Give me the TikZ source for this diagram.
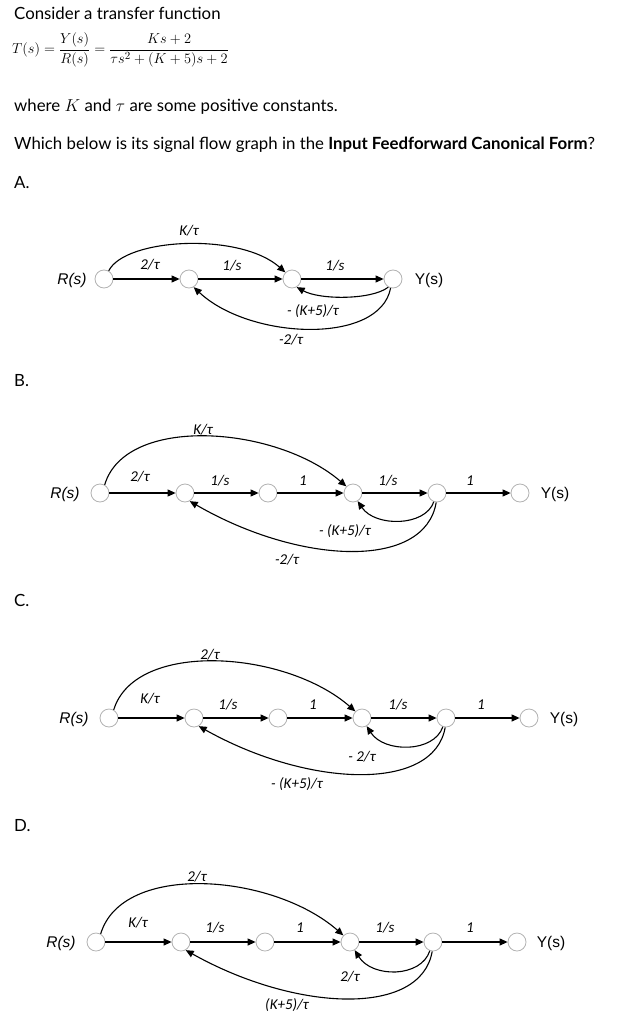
\documentclass[tikz,border=0pt]{standalone}
\usepackage{fontspec}
\setmainfont{Lato}
\newfontfamily\lblf{Carlito}
\newfontfamily\rsf{Liberation Sans}
\usetikzlibrary{arrows.meta}
\begin{document}
\begin{tikzpicture}[x=1pt,y=-1pt,
  nd/.style={circle,draw=black!30,line width=0.8pt,minimum size=18pt,inner sep=0pt},
  ar/.style={line width=1.1pt,-{Triangle[length=8pt,width=7pt]}},
  lb/.style={font=\lblf\itshape\fontsize{15}{17}\selectfont,inner sep=0pt},
  io/.style={font=\rsf\fontsize{15.5}{17}\selectfont,inner sep=0pt},
  tx/.style={font=\fontsize{16.8}{19}\selectfont,anchor=west,inner sep=0pt}]
\useasboundingbox (0,0) rectangle (634,1024);
\node[tx] (t1) at (14,13) {Consider a transfer function};
\node[tx,font=\fontsize{15.5}{18}\selectfont] (t2) at (12,50) {$\displaystyle T(s)=\frac{Y(s)}{R(s)}=\frac{Ks+2}{\tau s^2+(K+5)s+2}$};
\node[tx] (t3) at (14,107) {where $K$ and $\tau$ are some positive constants.};
\node[tx] (t4) at (14,145) {Which below is its signal flow graph in the \textbf{Input Feedforward Canonical Form}?};
\node[tx] (la) at (14,183) {A.};
\node[tx] (lbB) at (14,381) {B.};
\node[tx] (lc) at (14,600) {C.};
\node[tx] (ld) at (14,826) {D.};
% ---------- A
\node[nd] (aR) at (104,279) {};
\node[nd] (a1) at (189,279) {};
\node[nd] (a2) at (292,279) {};
\node[nd] (aY) at (393,279) {};
\node[io] (aRl) at (72,280) {\itshape R(s)};
\node[io] (aYl) at (429,280) {Y(s)};
\draw[ar] (aR) -- (a1);
\draw[ar] (a1) -- (a2);
\draw[ar] (a2) -- (aY);
\draw[ar] (aR.60) .. controls (125,238) and (240,232) .. (a2.135);
\draw[ar] (aY.240) .. controls (372,300) and (320,300) .. (a2.-60);
\draw[ar] (aY.255) .. controls (380,345) and (250,340) .. (a1.-60);
\node[lb] at (189,231) {K/τ};
\node[lb] at (150,265) {2/τ};
\node[lb] at (232,266) {1/s};
\node[lb] at (335,266) {1/s};
\node[lb] at (313,311) {- (K+5)/τ};
\node[lb] at (291,340) {-2/τ};
% ---------- B
\node[nd] (bR) at (100,493) {};
\node[nd] (b1) at (185,493) {};
\node[nd] (b2) at (268,493) {};
\node[nd] (b3) at (353,493) {};
\node[nd] (b4) at (437,493) {};
\node[nd] (bY) at (520,493) {};
\node[io] (bRl) at (65,494) {\itshape R(s)};
\node[io] (bYl) at (555,494) {Y(s)};
\draw[ar] (bR) -- (b1);
\draw[ar] (b1) -- (b2);
\draw[ar] (b2) -- (b3);
\draw[ar] (b3) -- (b4);
\draw[ar] (b4) -- (bY);
\draw[ar] (bR.60) .. controls (125,415) and (275,425) .. (b3.135);
\draw[ar] (b4.250) .. controls (425,527) and (375,527) .. (b3.-60);
\draw[ar] (b4.265) .. controls (425,570) and (300,565) .. (b1.-60);
\node[lb] at (203,430) {K/τ};
\node[lb] at (140,477) {2/τ};
\node[lb] at (220,481) {1/s};
\node[lb] at (303,481) {1};
\node[lb] at (388,481) {1/s};
\node[lb] at (470,481) {1};
\node[lb] at (345,531) {- (K+5)/τ};
\node[lb] at (287,560) {-2/τ};
% ---------- C
\node[nd] (cR) at (109,718) {};
\node[nd] (c1) at (194,718) {};
\node[nd] (c2) at (278,718) {};
\node[nd] (c3) at (362,718) {};
\node[nd] (c4) at (446,718) {};
\node[nd] (cY) at (529,718) {};
\node[io] (cRl) at (74,719) {\itshape R(s)};
\node[io] (cYl) at (564,719) {Y(s)};
\draw[ar] (cR) -- (c1);
\draw[ar] (c1) -- (c2);
\draw[ar] (c2) -- (c3);
\draw[ar] (c3) -- (c4);
\draw[ar] (c4) -- (cY);
\draw[ar] (cR.60) .. controls (135,640) and (285,650) .. (c3.135);
\draw[ar] (c4.250) .. controls (434,753) and (384,753) .. (c3.-60);
\draw[ar] (c4.265) .. controls (434,792) and (309,788) .. (c1.-60);
\node[lb] at (210,655) {2/τ};
\node[lb] at (150,699) {K/τ};
\node[lb] at (228,705) {1/s};
\node[lb] at (313,705) {1};
\node[lb] at (398,705) {1/s};
\node[lb] at (481,705) {1};
\node[lb] at (362,757) {- 2/τ};
\node[lb] at (297,784) {- (K+5)/τ};
% ---------- D
\node[nd] (dR) at (96,942) {};
\node[nd] (d1) at (181,942) {};
\node[nd] (d2) at (265,942) {};
\node[nd] (d3) at (350,942) {};
\node[nd] (d4) at (433,942) {};
\node[nd] (dY) at (517,942) {};
\node[io] (dRl) at (61,943) {\itshape R(s)};
\node[io] (dYl) at (551,943) {Y(s)};
\draw[ar] (dR) -- (d1);
\draw[ar] (d1) -- (d2);
\draw[ar] (d2) -- (d3);
\draw[ar] (d3) -- (d4);
\draw[ar] (d4) -- (dY);
\draw[ar] (dR.60) .. controls (122,862) and (272,873) .. (d3.135);
\draw[ar] (d4.250) .. controls (421,978) and (372,978) .. (d3.-60);
\draw[ar] (d4.265) .. controls (421,1017) and (296,1012) .. (d1.-60);
\node[lb] at (197,877) {2/τ};
\node[lb] at (138,923) {K/τ};
\node[lb] at (215,928) {1/s};
\node[lb] at (300,928) {1};
\node[lb] at (385,928) {1/s};
\node[lb] at (470,928) {1};
\node[lb] at (350,977) {2/τ};
\node[lb] at (287,1005) {(K+5)/τ};
\end{tikzpicture}
\end{document}
